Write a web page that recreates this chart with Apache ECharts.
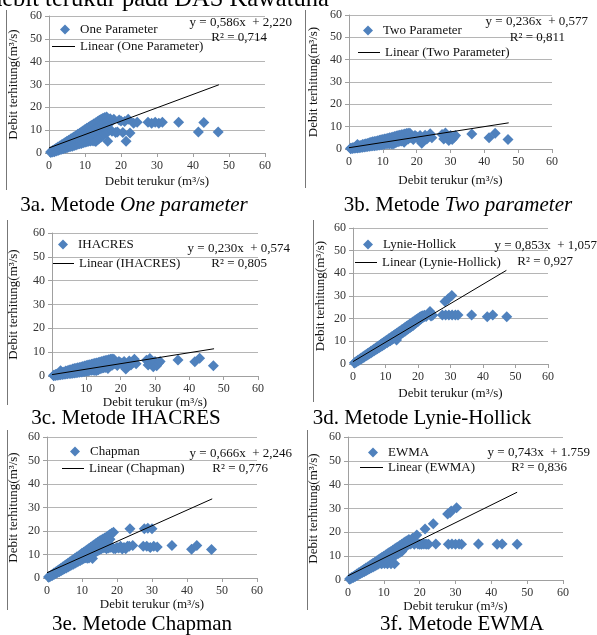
<!DOCTYPE html>
<html>
<head>
<meta charset="utf-8">
<script src="https://cdn.jsdelivr.net/npm/echarts@6/dist/echarts.min.js"></script>
<style>html,body{margin:0;padding:0;background:#fff;}#c{width:597px;height:635px;}</style>
</head>
<body>
<div id="c"></div>
<script>
// ---------- data ----------
const METHODS = ['One Parameter','Two Parameter','IHACRES','Lynie-Hollick','Chapman','EWMA'];
const SLOPES = [0.586, 0.236, 0.230, 0.853, 0.666, 0.743];
const INTERCEPTS = [2.220, 0.577, 0.574, 1.057, 2.246, 1.759];
const X_END = 47.2;
const EQUATIONS = ['y = 0,586x  + 2,220','y = 0,236x  + 0,577','y = 0,230x  + 0,574','y = 0,853x  + 1,057','y = 0,666x  + 2,246','y = 0,743x  + 1.759'];
const R2_TEXT = ['R² = 0,714','R² = 0,811','R² = 0,805','R² = 0,927','R² = 0,776','R² = 0,836'];
const CAPTION_PREFIX = ['3a. Metode ','3b. Metode ','3c. Metode IHACRES','3d. Metode Lynie-Hollick','3e. Metode Chapman','3f. Metode EWMA'];
const CAPTION_ITALIC = ['One parameter','Two parameter','','','',''];
const AXIS_MIN = 0, AXIS_MAX = 60, AXIS_STEP = 10;
const X_TITLE = 'Debit terukur (m³/s)';
const Y_TITLE = 'Debit terhitung(m³/s)';

// dense band: [measured x, [computed y values at that x]]
const oneParBand = [
[0.5,[0.2,0.6]],[1,[0.4,0.8,1.1]],[1.5,[0.6,1.0,1.5]],[2,[0.9,1.4,2.1]],[2.5,[1.1,1.7,2.6]],[3,[1.4,2.1,2.6,3.1]],
[3.5,[1.6,2.4,3.0,3.6]],[4,[1.9,2.7,3.4,4.1]],[4.5,[2.1,3.0,3.8,4.6]],[5,[2.3,3.3,4.2,5.1]],[5.5,[2.6,3.6,4.6,5.6]],
[6,[2.8,4.0,5.0,6.1]],[6.5,[3.0,4.3,5.5,6.6]],[7,[3.3,4.6,5.9,7.1]],[7.5,[3.5,4.9,6.3,7.6]],[8,[3.8,5.2,6.7,8.2]],
[8.5,[4.0,5.6,7.1,8.7]],[9,[4.2,5.9,7.6,9.2]],[9.5,[4.5,6.2,8.0,9.7]],[10,[4.7,6.5,8.4,10.3]],[10.5,[4.9,6.9,8.8,10.8]],
[11,[5.1,7.2,9.2,11.3]],[11.5,[5.3,7.5,9.7,11.8]],[12,[5.4,7.9,10.1,12.3]],[12.5,[5.3,8.2,10.5,12.8]],[13,[5.0,8.5,11.0,13.3]],
[13.5,[5.8,8.8,11.5,13.8]],[14,[6.5,9.2,12.0,14.3]],[14.5,[7.0,9.6,12.5,14.8]],[15,[8.0,10.0,13.0,15.2]],[15.5,[8.5,10.5,13.5,15.6]],
[16,[9.0,11.5,14.0,15.8]],[16.5,[9.5,12.5,14.5]]
];
const oneParOut = [
[16.3,5.2],[17,15.0],[17.5,9.5],[18,14.8],[18.5,9.0],[19,9.2],[19.5,14.5],[20,14.0],[20.5,9.0],[21,13.8],[21.4,5.2],[22,14.8],[22.5,8.8],
[23.5,13.0],[24.5,13.5],[27.5,13.5],[28.5,13.0],[29.5,13.5],[30.5,13.0],[31.5,13.5],[36,13.5],[41.5,9.2],[43,13.4],[47,9.2]
];
const twoParBand = [
[0.5,[0.1,0.3]],[1,[0.2,0.6]],[1.5,[0.3,0.7]],[2,[0.4,0.8,1.0]],[2.5,[0.5,1.0,2.0]],[3,[0.6,1.1,1.4]],[3.5,[0.7,1.2,1.6]],
[4,[0.8,1.4,2.0]],[4.5,[0.9,1.5,2.1]],[5,[1.0,1.7,2.4]],[5.5,[1.1,1.8,2.5]],[6,[1.2,2.0,2.8]],[6.5,[1.3,2.2,3.0]],[7,[1.4,2.3,3.2]],
[7.5,[1.5,2.5,3.4]],[8,[1.6,2.6,3.5]],[8.5,[1.7,2.8,3.7]],[9,[1.8,2.9,3.9]],[9.5,[1.9,3.1,4.1]],[10,[2.0,3.2,4.3]],[10.5,[2.1,3.4,4.5]],
[11,[2.3,3.5,4.6]],[11.5,[2.4,3.7,4.8]],[12,[2.4,3.8,5.0]],[12.5,[2.3,4.0,5.2]],[13,[2.2,4.1,5.4]],[13.5,[2.6,4.3,5.6]],[14,[3.0,4.5,5.8]],
[14.5,[3.2,4.7,6.0]],[15,[3.5,4.9,6.2]],[15.5,[3.6,5.1,6.4]],[16,[3.8,5.3,6.5]],[16.5,[4.0,5.5,6.7]],[17,[4.3,5.8,6.9]],[17.5,[4.5,6.0,7.0]],
[18,[5.0,6.2,7.0]]
];
const twoParOut = [
[16.3,3.0],[18.5,5.2],[19,4.3],[19.5,6.0],[20,5.5],[20.5,4.5],[21,6.0],[21.5,2.6],[22,3.8],[22.5,6.2],[23,4.5],[23.5,5.5],[24,6.8],[24.5,5.0],
[27.5,6.5],[28,4.5],[28.5,7.2],[29,5.0],[29.5,3.8],[30,6.0],[30.5,4.2],[31,5.2],[31.5,6.0],[36.3,6.7],[41.4,5.0],[43.2,7.0],[47,4.3]
];
const ihacresBand = [
[0.5,[0.1,0.3]],[1,[0.2,0.6]],[1.5,[0.3,0.8]],[2,[0.4,0.9,1.1]],[2.5,[0.5,1.0,2.2]],[3,[0.6,1.2,1.5]],[3.5,[0.7,1.3,1.7]],
[4,[0.8,1.4,2.1]],[4.5,[0.9,1.6,2.2]],[5,[1.0,1.7,2.5]],[5.5,[1.1,1.9,2.6]],[6,[1.2,2.0,2.9]],[6.5,[1.3,2.2,3.1]],[7,[1.4,2.4,3.3]],
[7.5,[1.5,2.5,3.5]],[8,[1.6,2.7,3.6]],[8.5,[1.7,2.8,3.8]],[9,[1.8,3.0,4.0]],[9.5,[1.9,3.1,4.2]],[10,[2.0,3.3,4.4]],[10.5,[2.1,3.4,4.6]],
[11,[2.3,3.6,4.7]],[11.5,[2.4,3.7,4.9]],[12,[2.4,3.9,5.1]],[12.5,[2.3,4.0,5.3]],[13,[2.3,4.2,5.5]],[13.5,[2.6,4.4,5.7]],[14,[3.0,4.6,5.9]],
[14.5,[3.2,4.8,6.1]],[15,[3.5,5.0,6.3]],[15.5,[3.6,5.2,6.5]],[16,[3.8,5.4,6.6]],[16.5,[4.0,5.6,6.8]],[17,[4.3,5.9,7.0]],[17.5,[4.5,6.1,7.1]],
[18,[5.0,6.3,7.0]]
];
const ihacresOut = [
[16.3,3.1],[18.5,5.3],[19,4.4],[19.5,6.1],[20,5.6],[20.5,4.6],[21,6.1],[21.5,2.9],[22,3.9],[22.5,6.3],[23,4.6],[23.5,5.6],[24,7.0],[24.5,5.1],
[27.5,6.6],[28,4.6],[28.5,7.3],[29,5.1],[29.5,3.9],[30,6.1],[30.5,4.3],[31,5.3],[31.5,6.1],[36.7,6.7],[41.6,6.0],[43,7.5],[47,4.3]
];
const lynieBand = [
[0.5,[0.4,0.6]],[1,[0.9,1.1]],[1.5,[1.3,1.6]],[2,[1.8,2.1]],[2.5,[2.2,2.6]],[3,[2.7,3.1]],[3.5,[3.1,3.6]],[4,[3.6,4.1]],
[4.5,[4.0,4.6]],[5,[4.5,5.1]],[5.5,[4.9,5.6]],[6,[5.4,6.1]],[6.5,[5.8,6.6]],[7,[6.3,7.1]],[7.5,[6.7,7.6]],[8,[7.2,8.1]],
[8.5,[7.6,8.6]],[9,[8.1,9.1]],[9.5,[8.5,9.6]],[10,[9.0,10.1]],[10.5,[9.4,10.6]],[11,[9.9,11.1]],[11.5,[10.3,11.6]],[12,[10.8,12.1]],
[12.5,[11.2,12.6]],[13,[11.7,13.1]],[13.5,[12.1,13.6]],[14,[12.6,14.1]],[14.5,[13.0,14.6]],[15,[13.5,15.1]],[15.5,[14.0,15.6]],
[16,[14.5,16.1]],[16.5,[15.0,16.6]],[17,[15.5,17.1]],[17.5,[16.0,17.6]],[18,[16.5,18.1]],[18.5,[17.0,18.6]],[19,[17.6,19.1]],
[19.5,[18.2,19.6]],[20,[18.8,20.1]],[20.5,[19.4,20.6]],[21,[20.0,21.1]],[21.5,[20.5,21.3]],[22,[21.0,21.5]]
];
const lynieOut = [
[13.4,10.6],[22.5,21.0],[23.7,23.2],[24,21.2],[24.5,21.5],[27.5,21.6],[28.3,27.6],[28.5,21.6],[29.3,28.8],[29.5,21.6],[30.4,30.2],
[30.5,21.6],[31.5,21.6],[32.3,21.6],[36.5,21.6],[41.3,20.8],[43,21.6],[47.3,20.8]
];
const chapmanBand = [
[0.5,[0.3,0.5]],[1,[0.7,1.0]],[1.5,[1.1,1.5]],[2,[1.5,2.1]],[2.5,[1.9,2.6]],[3,[2.3,2.8,3.1]],[3.5,[2.7,3.2,3.6]],[4,[3.1,3.7,4.2]],
[4.5,[3.5,4.1,4.7]],[5,[3.9,4.6,5.2]],[5.5,[4.3,5.0,5.7]],[6,[4.7,5.5,6.3]],[6.5,[5.1,5.9,6.8]],[7,[5.5,6.4,7.3]],[7.5,[5.9,6.8,7.8]],
[8,[6.3,7.3,8.4]],[8.5,[6.7,7.7,8.9]],[9,[7.1,8.2,9.4]],[9.5,[7.5,8.6,9.9]],[10,[7.9,9.1,10.5]],[10.5,[8.3,9.5,11.0]],[11,[8.6,10.0,11.5]],
[11.5,[8.4,10.4,12.0]],[12,[8.5,10.9,12.6]],[12.5,[9.5,11.3,13.1]],[13,[8.3,11.8,13.6]],[13.5,[10.7,12.2,14.1]],[14,[11.2,12.8,14.7]],
[14.5,[11.6,13.3,15.2]],[15,[12.0,13.8,15.7]],[15.5,[12.4,14.2,16.2]],[16,[12.8,14.6,16.6]],[16.5,[13.0,15.0,17.0]],[17,[12.5,15.5,17.5]],
[17.5,[12.8,16.0,18.0]],[18,[13.0,16.5,18.5]],[18.5,[13.2,19.0]],[19,[12.6,19.5]]
];
const chapmanOut = [
[19.5,12.5],[20,13.0],[20.5,12.8],[21,13.5],[21.5,12.3],[22,13.0],[22.5,12.5],[23,13.5],[23.7,21.0],[23.5,13.5],[24.5,13.8],[27.5,13.5],
[27.8,21.0],[28.5,13.5],[28.8,21.2],[29.5,13.0],[30,21.0],[30.5,13.5],[31.5,13.2],[35.7,13.8],[41.3,12.2],[42.8,13.8],[47,12.1]
];
const ewmaBand = [
[0.5,[0.3,0.5]],[1,[0.7,1.0]],[1.5,[1.1,1.5]],[2,[1.5,2.0]],[2.5,[1.9,2.5]],[3,[2.3,2.7,3.0]],[3.5,[2.7,3.1,3.5]],[4,[3.1,3.5,4.0]],
[4.5,[3.5,4.0,4.5]],[5,[3.9,4.5,5.0]],[5.5,[4.3,4.9,5.5]],[6,[4.7,5.4,6.0]],[6.5,[5.1,5.8,6.5]],[7,[5.5,6.3,7.0]],[7.5,[5.9,6.7,7.5]],
[8,[6.3,7.2,8.0]],[8.5,[6.7,7.6,8.5]],[9,[7.1,8.1,9.0]],[9.5,[7.5,8.5,9.5]],[10,[7.9,9.0,10.0]],[10.5,[8.3,9.4,10.5]],[11,[8.7,9.9,11.0]],
[11.5,[9.1,10.3,11.5]],[12,[9.5,10.8,12.0]],[12.5,[9.9,11.2,12.5]],[13,[10.3,11.7,13.0]],[13.5,[10.7,12.1,13.5]],[14,[11.1,12.6,14.0]],
[14.5,[11.5,13.0,14.5]],[15,[12.0,13.5,15.0]],[15.5,[13.0,14.5,15.5]],[16,[14.0,15.0,16.0]],[16.5,[15.0,16.5]],[17,[15.0,17.0]]
];
const ewmaOut = [
[9.4,6.8],[10.2,6.9],[11,6.8],[12,6.8],[13,6.8],[17.5,15.1],[18,17.5],[18.5,15.0],[19.2,18.9],[19.5,15.1],[20,15.0],[20.5,15.0],[21,15.1],
[21.5,21.4],[21.5,15.1],[22,15.0],[22.5,15.0],[23.8,23.6],[24.5,15.1],[27.8,27.7],[28,15.0],[28.5,28.3],[28.8,28.9],[29,15.1],[30,15.0],
[30.3,30.3],[31,15.1],[31.7,15.0],[36.4,15.1],[41.6,15.0],[43,15.1],[47.2,15.0]
];
const BANDS = [oneParBand, twoParBand, ihacresBand, lynieBand, chapmanBand, ewmaBand];
const OUTLIERS = [oneParOut, twoParOut, ihacresOut, lynieOut, chapmanOut, ewmaOut];

function flatten(band, out){
  const pts = [];
  band.forEach(([x, ys]) => ys.forEach(y => pts.push([x, y])));
  return pts.concat(out);
}

// ---------- layout ----------
const FONT = 'Liberation Serif';
const BLUE = '#4f81bd';
const grids = [
  {left:49, top:16, width:216, height:137},
  {left:349, top:15, width:203, height:134},
  {left:52, top:233, width:206, height:143},
  {left:353, top:228, width:195, height:136},
  {left:47, top:437, width:210, height:141},
  {left:348, top:437, width:215, height:143}
];
const xNameGap = [22, 25, 16, 23, 19, 17];
const yNameGap = [29, 29, 32, 26, 27, 28];
const legendPos = [
  {dx:65, dy:30, lx:52, ll:26, ly:47},
  {dx:368, dy:31, lx:358, ll:25, ly:53},
  {dx:63, dy:245, lx:53, ll:24, ly:264},
  {dx:368, dy:245, lx:355, ll:25, ly:263},
  {dx:75, dy:452, lx:62, ll:25, ly:469},
  {dx:373, dy:453, lx:360, ll:26, ly:468}
];
const eqPos = [
  {ex:292, ey:23, rx:267, ry:38},
  {ex:588, ey:22, rx:565, ry:38},
  {ex:290, ey:249, rx:267, ry:264},
  {ex:597, ey:246, rx:573, ry:262},
  {ex:292, ey:454, rx:268, ry:469},
  {ex:590, ey:453, rx:567, ry:468}
];
const capPos = [{x:134,y:205},{x:458,y:205},{x:126,y:418},{x:422,y:418},{x:142,y:624},{x:462,y:624}];
const frames = [[6.5,10,190],[305.5,10,188],[7.5,220,405],[313.5,220,402],[7.5,430,610],[307.5,430,610]];

const option = {
  animation:false,
  backgroundColor:'#fff',
  grid:[], xAxis:[], yAxis:[], series:[], legend:[], graphic:[]
};

const axisLabel = {fontFamily:FONT, fontSize:12, color:'#333', margin:7};
METHODS.forEach((m,i)=>{
  option.grid.push(Object.assign({containLabel:false}, grids[i]));
  option.xAxis.push({
    type:'value', gridIndex:i, min:AXIS_MIN, max:AXIS_MAX, interval:AXIS_STEP,
    name:X_TITLE, nameLocation:'middle', nameGap:xNameGap[i],
    nameTextStyle:{fontFamily:FONT, fontSize:13, color:'#111'},
    axisLine:{show:true, onZero:false, lineStyle:{color:'#a0a0a0'}},
    axisTick:{show:true, length:4, lineStyle:{color:'#a0a0a0'}},
    splitLine:{show:false},
    axisLabel:axisLabel
  });
  option.yAxis.push({
    type:'value', gridIndex:i, min:AXIS_MIN, max:AXIS_MAX, interval:AXIS_STEP,
    name:Y_TITLE, nameLocation:'middle', nameGap:yNameGap[i], nameRotate:90,
    nameTextStyle:{fontFamily:FONT, fontSize:13, color:'#111'},
    axisLine:{show:true, lineStyle:{color:'#a0a0a0'}},
    axisTick:{show:true, length:4, lineStyle:{color:'#a0a0a0'}},
    splitLine:{show:true, lineStyle:{color:'#b5b5b5'}},
    axisLabel:axisLabel
  });
  option.series.push({
    type:'scatter', name:m, xAxisIndex:i, yAxisIndex:i,
    symbol:'diamond', symbolSize:11,
    itemStyle:{color:BLUE, opacity:1},
    data:flatten(BANDS[i], OUTLIERS[i]), z:2
  });
  const a = SLOPES[i], b = INTERCEPTS[i];
  option.series.push({
    type:'line', name:'Linear ('+m+')', xAxisIndex:i, yAxisIndex:i,
    symbol:'none', lineStyle:{color:'#000', width:1}, itemStyle:{color:'#000'},
    data:[[0,b],[X_END, a*X_END+b]], z:3
  });
  const lp = legendPos[i];
  option.legend.push({
    data:[{name:m, icon:'diamond'}], left:lp.dx-5, top:lp.dy-7, padding:0,
    itemWidth:10, itemHeight:10, selectedMode:false,
    textStyle:{fontFamily:FONT, fontSize:13, color:'#111', padding:[0,0,0,5]}
  });
  option.legend.push({
    data:[{name:'Linear ('+m+')', icon:'rect'}], left:lp.lx, top:lp.ly-7, padding:0,
    itemWidth:lp.ll-3, itemHeight:1, selectedMode:false,
    textStyle:{fontFamily:FONT, fontSize:13, color:'#111'}
  });
  const ep = eqPos[i];
  option.graphic.push({type:'text', x:ep.ex, y:ep.ey, z:10,
    style:{text:EQUATIONS[i], font:'13px "'+FONT+'"', fill:'#111', align:'right', verticalAlign:'middle'}});
  option.graphic.push({type:'text', x:ep.rx, y:ep.ry, z:10,
    style:{text:R2_TEXT[i], font:'13px "'+FONT+'"', fill:'#111', align:'right', verticalAlign:'middle'}});
  const cp = capPos[i];
  let capText = '{n|'+CAPTION_PREFIX[i]+'}' + (CAPTION_ITALIC[i] ? '{it|'+CAPTION_ITALIC[i]+'}' : '');
  option.graphic.push({type:'text', x:cp.x, y:cp.y, z:10,
    style:{text:capText, align:'center', verticalAlign:'middle',
      rich:{n:{fontFamily:FONT, fontSize:21, fill:'#000', color:'#000'}, it:{fontFamily:FONT, fontSize:21, fontStyle:'italic', fill:'#000', color:'#000'}}}});
  const f = frames[i];
  option.graphic.push({type:'line', z:10, shape:{x1:f[0], y1:f[1], x2:f[0], y2:f[2]}, style:{stroke:'#777', lineWidth:1}});
});
option.graphic.push({type:'text', x:-10, y:12, z:10,
  style:{text:'debit terukur pada DAS Kawatuna', font:'24.5px "'+FONT+'"', fill:'#000', align:'left', verticalAlign:'bottom'}});

const chart = echarts.init(document.getElementById('c'), null, {renderer:'canvas'});
chart.setOption(option);
</script>
</body>
</html>
